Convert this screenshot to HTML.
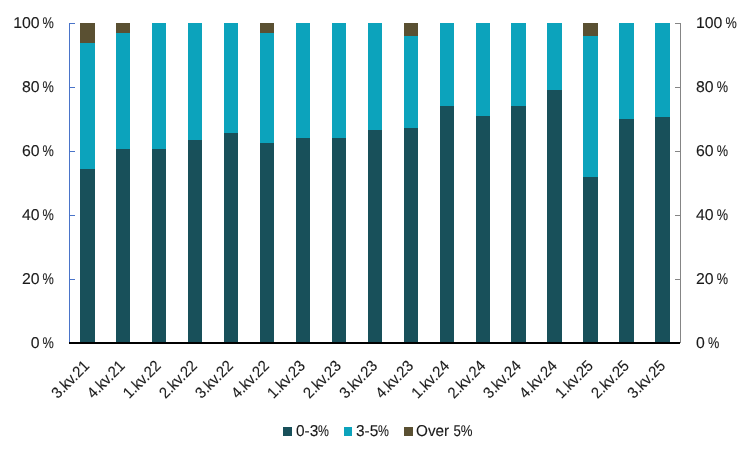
<!DOCTYPE html>
<html lang="no">
<head>
<meta charset="utf-8">
<title>Chart</title>
<style>
html,body{margin:0;padding:0;background:#fff;}
body{width:750px;height:460px;overflow:hidden;}
svg{display:block;}
text{font-family:"Liberation Sans","DejaVu Sans",sans-serif;font-size:15.6px;fill:#1a1a1a;stroke:#1a1a1a;stroke-width:0.12px;text-rendering:geometricPrecision;}
</style>
</head>
<body>
<svg width="750" height="460" viewBox="0 0 750 460">
<rect x="0" y="0" width="750" height="460" fill="#ffffff"/>

<g shape-rendering="crispEdges">
<rect x="80" y="169" width="15" height="174" fill="#18505a"/>
<rect x="80" y="43" width="15" height="126" fill="#0ca3bc"/>
<rect x="80" y="23" width="15" height="20" fill="#5a5032"/>
<rect x="116" y="149" width="14" height="194" fill="#18505a"/>
<rect x="116" y="33" width="14" height="116" fill="#0ca3bc"/>
<rect x="116" y="23" width="14" height="10" fill="#5a5032"/>
<rect x="152" y="149" width="14" height="194" fill="#18505a"/>
<rect x="152" y="23" width="14" height="126" fill="#0ca3bc"/>
<rect x="188" y="140" width="14" height="203" fill="#18505a"/>
<rect x="188" y="23" width="14" height="117" fill="#0ca3bc"/>
<rect x="224" y="133" width="14" height="210" fill="#18505a"/>
<rect x="224" y="23" width="14" height="110" fill="#0ca3bc"/>
<rect x="260" y="143" width="14" height="200" fill="#18505a"/>
<rect x="260" y="33" width="14" height="110" fill="#0ca3bc"/>
<rect x="260" y="23" width="14" height="10" fill="#5a5032"/>
<rect x="296" y="138" width="14" height="205" fill="#18505a"/>
<rect x="296" y="23" width="14" height="115" fill="#0ca3bc"/>
<rect x="332" y="138" width="14" height="205" fill="#18505a"/>
<rect x="332" y="23" width="14" height="115" fill="#0ca3bc"/>
<rect x="368" y="130" width="14" height="213" fill="#18505a"/>
<rect x="368" y="23" width="14" height="107" fill="#0ca3bc"/>
<rect x="404" y="128" width="14" height="215" fill="#18505a"/>
<rect x="404" y="36" width="14" height="92" fill="#0ca3bc"/>
<rect x="404" y="23" width="14" height="13" fill="#5a5032"/>
<rect x="440" y="106" width="14" height="237" fill="#18505a"/>
<rect x="440" y="23" width="14" height="83" fill="#0ca3bc"/>
<rect x="476" y="116" width="14" height="227" fill="#18505a"/>
<rect x="476" y="23" width="14" height="93" fill="#0ca3bc"/>
<rect x="511" y="106" width="15" height="237" fill="#18505a"/>
<rect x="511" y="23" width="15" height="83" fill="#0ca3bc"/>
<rect x="547" y="90" width="15" height="253" fill="#18505a"/>
<rect x="547" y="23" width="15" height="67" fill="#0ca3bc"/>
<rect x="583" y="177" width="15" height="166" fill="#18505a"/>
<rect x="583" y="36" width="15" height="141" fill="#0ca3bc"/>
<rect x="583" y="23" width="15" height="13" fill="#5a5032"/>
<rect x="619" y="119" width="15" height="224" fill="#18505a"/>
<rect x="619" y="23" width="15" height="96" fill="#0ca3bc"/>
<rect x="655" y="117" width="15" height="226" fill="#18505a"/>
<rect x="655" y="23" width="15" height="94" fill="#0ca3bc"/>
<rect x="69" y="23" width="1" height="320" fill="#4a74c9"/>
<rect x="680" y="23" width="1" height="320" fill="#858585"/>
<rect x="69" y="23" width="6" height="1" fill="#4a74c9"/>
<rect x="675" y="23" width="6" height="1" fill="#858585"/>
<rect x="69" y="87" width="6" height="1" fill="#4a74c9"/>
<rect x="675" y="87" width="6" height="1" fill="#858585"/>
<rect x="69" y="151" width="6" height="1" fill="#4a74c9"/>
<rect x="675" y="151" width="6" height="1" fill="#858585"/>
<rect x="69" y="215" width="6" height="1" fill="#4a74c9"/>
<rect x="675" y="215" width="6" height="1" fill="#858585"/>
<rect x="69" y="279" width="6" height="1" fill="#4a74c9"/>
<rect x="675" y="279" width="6" height="1" fill="#858585"/>
<rect x="69" y="342" width="611" height="2" fill="#000000"/>
</g>
<text y="27.8"><tspan x="695.9" textLength="26.4" lengthAdjust="spacingAndGlyphs">100</tspan> <tspan x="725.6" textLength="11.3" lengthAdjust="spacingAndGlyphs">%</tspan></text>
<text y="27.8"><tspan x="13.2" textLength="26.4" lengthAdjust="spacingAndGlyphs">100</tspan> <tspan x="42.4" textLength="11.3" lengthAdjust="spacingAndGlyphs">%</tspan></text>
<text y="91.8"><tspan x="695.9" textLength="17.6" lengthAdjust="spacingAndGlyphs">80</tspan> <tspan x="716.8" textLength="11.3" lengthAdjust="spacingAndGlyphs">%</tspan></text>
<text y="91.8"><tspan x="22.0" textLength="17.6" lengthAdjust="spacingAndGlyphs">80</tspan> <tspan x="42.4" textLength="11.3" lengthAdjust="spacingAndGlyphs">%</tspan></text>
<text y="155.8"><tspan x="695.9" textLength="17.6" lengthAdjust="spacingAndGlyphs">60</tspan> <tspan x="716.8" textLength="11.3" lengthAdjust="spacingAndGlyphs">%</tspan></text>
<text y="155.8"><tspan x="22.0" textLength="17.6" lengthAdjust="spacingAndGlyphs">60</tspan> <tspan x="42.4" textLength="11.3" lengthAdjust="spacingAndGlyphs">%</tspan></text>
<text y="219.8"><tspan x="695.9" textLength="17.6" lengthAdjust="spacingAndGlyphs">40</tspan> <tspan x="716.8" textLength="11.3" lengthAdjust="spacingAndGlyphs">%</tspan></text>
<text y="219.8"><tspan x="22.0" textLength="17.6" lengthAdjust="spacingAndGlyphs">40</tspan> <tspan x="42.4" textLength="11.3" lengthAdjust="spacingAndGlyphs">%</tspan></text>
<text y="283.8"><tspan x="695.9" textLength="17.6" lengthAdjust="spacingAndGlyphs">20</tspan> <tspan x="716.8" textLength="11.3" lengthAdjust="spacingAndGlyphs">%</tspan></text>
<text y="283.8"><tspan x="22.0" textLength="17.6" lengthAdjust="spacingAndGlyphs">20</tspan> <tspan x="42.4" textLength="11.3" lengthAdjust="spacingAndGlyphs">%</tspan></text>
<text y="347.8"><tspan x="695.9" textLength="8.8" lengthAdjust="spacingAndGlyphs">0</tspan> <tspan x="708.0" textLength="11.3" lengthAdjust="spacingAndGlyphs">%</tspan></text>
<text y="347.8"><tspan x="30.8" textLength="8.8" lengthAdjust="spacingAndGlyphs">0</tspan> <tspan x="42.4" textLength="11.3" lengthAdjust="spacingAndGlyphs">%</tspan></text>
<text transform="translate(90.2,366.8) rotate(-45) scale(0.9359,1)" text-anchor="end">3.kv.21</text>
<text transform="translate(125.8,366.8) rotate(-45) scale(0.9359,1)" text-anchor="end">4.kv.21</text>
<text transform="translate(161.8,366.8) rotate(-45) scale(0.9359,1)" text-anchor="end">1.kv.22</text>
<text transform="translate(197.9,366.8) rotate(-45) scale(0.9359,1)" text-anchor="end">2.kv.22</text>
<text transform="translate(233.9,366.8) rotate(-45) scale(0.9359,1)" text-anchor="end">3.kv.22</text>
<text transform="translate(270.0,366.8) rotate(-45) scale(0.9359,1)" text-anchor="end">4.kv.22</text>
<text transform="translate(306.1,366.8) rotate(-45) scale(0.9359,1)" text-anchor="end">1.kv.23</text>
<text transform="translate(342.1,366.8) rotate(-45) scale(0.9359,1)" text-anchor="end">2.kv.23</text>
<text transform="translate(378.2,366.8) rotate(-45) scale(0.9359,1)" text-anchor="end">3.kv.23</text>
<text transform="translate(414.2,366.8) rotate(-45) scale(0.9359,1)" text-anchor="end">4.kv.23</text>
<text transform="translate(450.3,366.8) rotate(-45) scale(0.9359,1)" text-anchor="end">1.kv.24</text>
<text transform="translate(486.4,366.8) rotate(-45) scale(0.9359,1)" text-anchor="end">2.kv.24</text>
<text transform="translate(521.9,366.8) rotate(-45) scale(0.9359,1)" text-anchor="end">3.kv.24</text>
<text transform="translate(558.0,366.8) rotate(-45) scale(0.9359,1)" text-anchor="end">4.kv.24</text>
<text transform="translate(594.0,366.8) rotate(-45) scale(0.9359,1)" text-anchor="end">1.kv.25</text>
<text transform="translate(630.1,366.8) rotate(-45) scale(0.9359,1)" text-anchor="end">2.kv.25</text>
<text transform="translate(666.2,366.8) rotate(-45) scale(0.9359,1)" text-anchor="end">3.kv.25</text>
<rect x="283" y="427" width="9" height="9" fill="#18505a" shape-rendering="crispEdges"/>
<text y="435.8"><tspan x="296.0" textLength="22.3" lengthAdjust="spacingAndGlyphs">0-3</tspan><tspan x="317.9" textLength="10.9" lengthAdjust="spacingAndGlyphs">%</tspan></text>
<rect x="344" y="427" width="8" height="9" fill="#0ca3bc" shape-rendering="crispEdges"/>
<text y="435.8"><tspan x="356.0" textLength="22.3" lengthAdjust="spacingAndGlyphs">3-5</tspan><tspan x="377.9" textLength="10.9" lengthAdjust="spacingAndGlyphs">%</tspan></text>
<rect x="404" y="427" width="9" height="9" fill="#5a5032" shape-rendering="crispEdges"/>
<text y="435.8"><tspan x="416.1" textLength="33.1" lengthAdjust="spacingAndGlyphs">Over</tspan> <tspan x="453.4" textLength="19.1" lengthAdjust="spacingAndGlyphs">5%</tspan></text>
</svg>
</body>
</html>
